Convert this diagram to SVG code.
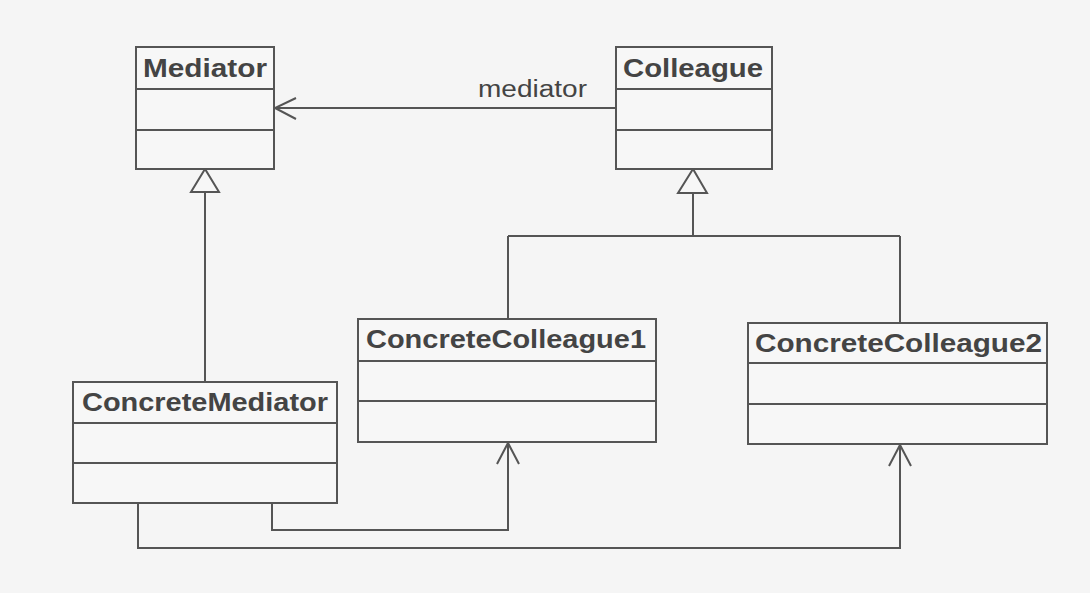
<svg xmlns="http://www.w3.org/2000/svg" width="1090" height="593" viewBox="0 0 1090 593">
<style>
.box{fill:#f7f7f7;stroke:#555;stroke-width:2}
.sep{stroke:#555;stroke-width:2}
.title{font-family:"Liberation Sans",Arial,sans-serif;font-weight:bold;font-size:26px;fill:#444}
.lbl{font-family:"Liberation Sans",Arial,sans-serif;font-size:23px;fill:#444}
.ln{fill:none;stroke:#555;stroke-width:2}
.tri{fill:#f7f7f7;stroke:#555;stroke-width:2}
.open{fill:none;stroke:#555;stroke-width:2}
</style>
<rect x="0" y="0" width="1090" height="593" fill="#f5f5f5"/>
<g id="connectors">
<path class="ln" d="M616,108 H275"/>
<path class="open" d="M296,98 L275,108 L296,119"/>
<text class="lbl" x="478" y="97" textLength="109" lengthAdjust="spacingAndGlyphs">mediator</text>
<path class="ln" d="M205,192 V382"/>
<polygon class="tri" points="205,169 191,192 219,192"/>
<path class="ln" d="M693,193 V236 M508,236 H900 M508,236 V319 M900,236 V323"/>
<polygon class="tri" points="693,169 678,193 707,193"/>
<path class="ln" d="M272,503 V530 H508 V443"/>
<path class="open" d="M497,464 L508,443 L519,464"/>
<path class="ln" d="M138,503 V548 H900 V445"/>
<path class="open" d="M889,466 L900,445 L911,466"/>
</g>
<g id="Mediator">
<rect class="box" x="136" y="47" width="138" height="122"/>
<path class="sep" d="M136,89 H274 M136,130 H274"/>
<text class="title" x="143" y="77" textLength="124" lengthAdjust="spacingAndGlyphs">Mediator</text>
</g>
<g id="Colleague">
<rect class="box" x="616" y="47" width="156" height="122"/>
<path class="sep" d="M616,89 H772 M616,130 H772"/>
<text class="title" x="623" y="77" textLength="140" lengthAdjust="spacingAndGlyphs">Colleague</text>
</g>
<g id="ConcreteMediator">
<rect class="box" x="73" y="382" width="264" height="121"/>
<path class="sep" d="M73,423 H337 M73,463 H337"/>
<text class="title" x="82" y="411" textLength="246" lengthAdjust="spacingAndGlyphs">ConcreteMediator</text>
</g>
<g id="ConcreteColleague1">
<rect class="box" x="358" y="319" width="298" height="123"/>
<path class="sep" d="M358,361 H656 M358,401 H656"/>
<text class="title" x="366" y="348" textLength="280" lengthAdjust="spacingAndGlyphs">ConcreteColleague1</text>
</g>
<g id="ConcreteColleague2">
<rect class="box" x="748" y="323" width="299" height="121"/>
<path class="sep" d="M748,363 H1047 M748,404 H1047"/>
<text class="title" x="755" y="352" textLength="287" lengthAdjust="spacingAndGlyphs">ConcreteColleague2</text>
</g>
</svg>
